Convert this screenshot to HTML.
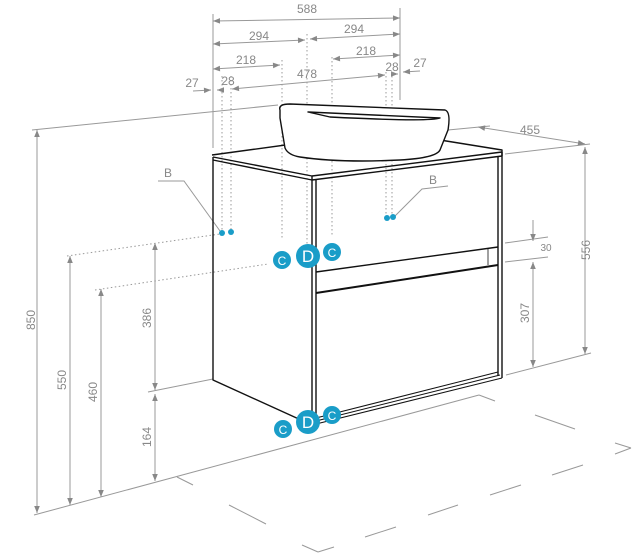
<!DOCTYPE html>
<html><head><meta charset="utf-8"><style>
html,body{margin:0;padding:0;background:#fff;}
svg{display:block;}
text{font-family:"Liberation Sans",sans-serif;fill:#888;font-size:12px;}
</style></head><body>
<svg width="641" height="556" viewBox="0 0 641 556" xmlns="http://www.w3.org/2000/svg">
<defs>
<marker id="a" viewBox="0 0 10 10" refX="10" refY="5" markerWidth="9" markerHeight="7" orient="auto-start-reverse"><path d="M0,1 L10,5 L0,9 z" fill="#888"/></marker>
</defs>
<g stroke="#999" stroke-width="1" fill="none">
<line x1="32" y1="130" x2="278" y2="105"/>
<line x1="448" y1="130" x2="490" y2="126"/>
<line x1="505" y1="154" x2="590" y2="144"/>
<!-- floor -->
<line x1="34" y1="515" x2="479" y2="395"/>
<line x1="479" y1="395" x2="495" y2="401"/>
<line x1="506" y1="375" x2="591" y2="353"/>
<line x1="505" y1="243" x2="548" y2="237"/>
<line x1="505" y1="262" x2="548" y2="257"/>
<!-- floor dashed outline -->
<line x1="177" y1="477" x2="193" y2="485"/>
<line x1="229" y1="505" x2="266" y2="524"/>
<line x1="302" y1="545" x2="318" y2="552"/>
<line x1="318" y1="552" x2="334" y2="547"/>
<line x1="365" y1="537" x2="396" y2="527"/>
<line x1="428" y1="515" x2="458" y2="505"/>
<line x1="490" y1="495" x2="521" y2="485"/>
<line x1="552" y1="475" x2="583" y2="465"/>
<line x1="615" y1="454" x2="631" y2="448"/>
<line x1="631" y1="448" x2="615" y2="443"/>
<line x1="535" y1="415" x2="575" y2="429"/>
<!-- vertical dims -->
<line x1="37" y1="130" x2="37" y2="513" marker-start="url(#a)" marker-end="url(#a)"/>
<line x1="70" y1="256" x2="70" y2="505" marker-start="url(#a)" marker-end="url(#a)"/>
<line x1="101" y1="289" x2="101" y2="497" marker-start="url(#a)" marker-end="url(#a)"/>
<line x1="155" y1="243" x2="155" y2="390" marker-start="url(#a)" marker-end="url(#a)"/>
<line x1="155" y1="394" x2="155" y2="481" marker-start="url(#a)" marker-end="url(#a)"/>
<line x1="148" y1="392" x2="213" y2="379"/>
<line x1="585" y1="147" x2="585" y2="354" marker-start="url(#a)" marker-end="url(#a)"/>
<line x1="533" y1="262" x2="533" y2="367" marker-start="url(#a)" marker-end="url(#a)"/>
<line x1="533" y1="220" x2="533" y2="241" marker-end="url(#a)"/>
<!-- top dims -->
<line x1="213" y1="14" x2="213" y2="148"/>
<line x1="400" y1="8" x2="400" y2="100"/>
<line x1="213" y1="21" x2="400" y2="18" marker-start="url(#a)" marker-end="url(#a)"/>
<line x1="213" y1="44" x2="305" y2="40" marker-start="url(#a)" marker-end="url(#a)"/>
<line x1="310" y1="39" x2="400" y2="34" marker-start="url(#a)" marker-end="url(#a)"/>
<line x1="213" y1="69" x2="280" y2="65" marker-start="url(#a)" marker-end="url(#a)"/>
<line x1="333" y1="59" x2="400" y2="55" marker-start="url(#a)" marker-end="url(#a)"/>
<line x1="232" y1="89" x2="385" y2="75" marker-start="url(#a)" marker-end="url(#a)"/>
<line x1="193" y1="91" x2="211" y2="90" marker-end="url(#a)"/>
<line x1="217" y1="90" x2="222" y2="90" marker-start="url(#a)"/>
<line x1="392" y1="74" x2="398" y2="74" marker-end="url(#a)"/>
<line x1="420" y1="71" x2="403" y2="72" marker-end="url(#a)"/>
<line x1="478" y1="127" x2="585" y2="144" marker-start="url(#a)" marker-end="url(#a)"/>
<polyline points="158,181 184,181 220,231"/>
<polyline points="448,186 422,189 395,216"/>
</g>
<g stroke="#999" stroke-width="1" fill="none" stroke-dasharray="1.5,2.5">
<line x1="222" y1="76" x2="222" y2="232"/>
<line x1="231" y1="76" x2="231" y2="232"/>
<line x1="282" y1="60" x2="282" y2="240"/>
<line x1="307" y1="34" x2="307" y2="250"/>
<line x1="332" y1="57" x2="332" y2="236"/>
<line x1="386" y1="72" x2="386" y2="216"/>
<line x1="392" y1="72" x2="392" y2="216"/>
<line x1="67" y1="256" x2="220" y2="234"/>
<line x1="95" y1="290" x2="268" y2="264"/>
</g>
<g stroke="#111" stroke-width="1.4" fill="none" stroke-linejoin="round">
<polyline points="213,157 213,380 312,425"/>
<polyline points="212,155 300,143"/>
<polyline points="440,140 502,150 502,156"/>
<polyline points="213,157 312,176 502,152"/>
<polyline points="213,160 312,180 502,156"/>
<line x1="312" y1="176" x2="312" y2="425"/>
<line x1="316" y1="180" x2="316" y2="423"/>
<line x1="498" y1="156" x2="498" y2="376"/>
<line x1="502" y1="152" x2="502" y2="378"/>
<polyline points="316,272 498,247"/>
<polyline points="316,293 498,265" stroke-width="2"/>
<polyline points="316,418 498,372" stroke-width="1"/>
<polyline points="316,421 500,375" stroke-width="1"/>
<polyline points="312,425 502,378" stroke-width="1"/>
<line x1="488" y1="248" x2="488" y2="265" stroke-width="0.8"/>
<path d="M280,110 Q278,104 290,104 L445,110 Q451,112 448,130 L440,150 Q436,158 400,160 Q340,163 300,157 Q288,155 285,148 L280,118 Z" fill="#fff"/>
<path d="M308,112 L440,118 Q430,122 330,117 Z"/>
</g>
<g fill="#1a9dc8">
<circle cx="222" cy="233" r="3"/><circle cx="231" cy="232" r="3"/>
<circle cx="387" cy="218" r="3"/><circle cx="393" cy="217" r="3"/>
<circle cx="282" cy="260" r="9"/><circle cx="308" cy="256" r="12"/><circle cx="332" cy="252" r="9"/>
<circle cx="283" cy="429" r="9"/><circle cx="308" cy="422" r="12"/><circle cx="332" cy="415" r="9"/>
</g>
<g style="font-size:14px" text-anchor="middle">
<text x="282" y="265" style="fill:#fff">C</text><text x="308" y="262" style="fill:#fff;font-size:17px">D</text><text x="332" y="257" style="fill:#fff">C</text>
<text x="283" y="434" style="fill:#fff">C</text><text x="308" y="428" style="fill:#fff;font-size:17px">D</text><text x="332" y="420" style="fill:#fff">C</text>
</g>
<g text-anchor="middle">
<text x="307" y="13">588</text>
<text x="259" y="40">294</text>
<text x="354" y="33">294</text>
<text x="246" y="64">218</text>
<text x="366" y="55">218</text>
<text x="307" y="78">478</text>
<text x="192" y="87">27</text>
<text x="228" y="85">28</text>
<text x="392" y="71">28</text>
<text x="420" y="67">27</text>
<text x="530" y="134">455</text>
<text x="168" y="177">B</text>
<text x="433" y="184">B</text>
<text x="546" y="251" style="font-size:10px">30</text>
<text transform="translate(35,320) rotate(-90)">850</text>
<text transform="translate(66,380) rotate(-90)">550</text>
<text transform="translate(97,392) rotate(-90)">460</text>
<text transform="translate(151,318) rotate(-90)">386</text>
<text transform="translate(151,437) rotate(-90)">164</text>
<text transform="translate(529,313) rotate(-90)">307</text>
<text transform="translate(590,250) rotate(-90)">556</text>
</g>
</svg>
</body></html>
